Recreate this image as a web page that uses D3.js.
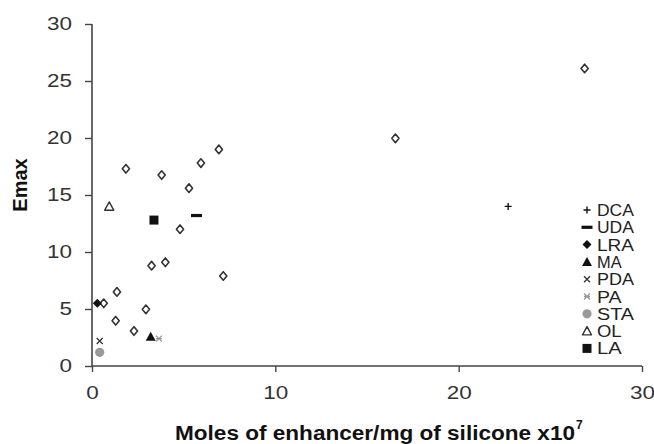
<!DOCTYPE html>
<html>
<head>
<meta charset="utf-8">
<style>
  body { margin: 0; background: #fff; }
  text { font-family: Arial, "Liberation Sans", sans-serif; }
</style>
</head>
<body>
<script src="https://cdn.jsdelivr.net/npm/d3@7"></script>
<script>

// legend order
var series = ["DCA", "UDA", "LRA", "MA", "PDA", "PA", "STA", "OL", "LA"];

// points: [x, Emax]
var otherPts = [[1.85, 17.3], [3.8, 16.75], [5.94, 17.8], [6.92, 19.0], [5.29, 15.6],
                [4.8, 12.0], [3.25, 8.8], [4.0, 9.1], [7.16, 7.9], [1.36, 6.5],
                [0.64, 5.5], [2.94, 4.97], [1.29, 3.97], [2.29, 3.07],
                [16.55, 19.97], [26.87, 26.1]];
var dcaPts = [[22.7, 14.0]];
var udaPts = [[5.7, 13.2]];
var lraPts = [[0.29, 5.5]];
var maPts  = [[3.2, 2.57]];
var pdaPts = [[0.42, 2.2]];
var paPts  = [[3.65, 2.4]];
var staPts = [[0.42, 1.2]];
var olPts  = [[0.94, 14.0]];
var laPts  = [[3.38, 12.8]];

var xTicks = [0, 10, 20, 30];
var yTicks = [0, 5, 10, 15, 20, 25, 30];

var width = 654, height = 444;
var margin = {top: 24, right: 12, bottom: 78, left: 92};

var svg = d3.select("body").append("svg")
    .attr("width", width)
    .attr("height", height);

svg.append("rect").attr("width", width).attr("height", height).attr("fill", "#fff");

var x = d3.scaleLinear().domain([0, 30]).range([margin.left, width - margin.right]);
var y = d3.scaleLinear().domain([0, 30]).range([height - margin.bottom, margin.top]);

// y axis
var gy = svg.append("g")
    .attr("transform", "translate(" + margin.left + ",0)")
    .call(d3.axisLeft(y).tickValues(yTicks).tickSize(7).tickPadding(13));
// x axis
var gx = svg.append("g")
    .attr("transform", "translate(0," + (height - margin.bottom) + ")")
    .call(d3.axisBottom(x).tickValues(xTicks).tickSize(6).tickPadding(14));

[gx, gy].forEach(function(g) {
  g.select(".domain").attr("stroke", "#444").attr("stroke-width", 1.6);
  g.selectAll(".tick line").attr("stroke", "#444").attr("stroke-width", 1.4);
  g.selectAll(".tick text")
      .attr("fill", "#333")
      .style("font-size", "18px")
      .attr("textLength", function(d) { return String(d).length * 12.5; })
      .attr("lengthAdjust", "spacingAndGlyphs");
});
gx.select(".domain").attr("d", "M" + x(0) + ",0H" + x(30));
gy.select(".domain").attr("d", "M0," + y(0) + "V" + y(30));

// axis titles
svg.append("text")
    .attr("x", 175)
    .attr("y", 440)
    .attr("font-weight", "bold")
    .style("font-size", "20px")
    .attr("fill", "#111")
    .attr("textLength", 400)
    .attr("lengthAdjust", "spacingAndGlyphs")
    .text("Moles of enhancer/mg of silicone x10");
svg.append("text")
    .attr("x", 576)
    .attr("y", 429)
    .attr("font-weight", "bold")
    .style("font-size", "12px")
    .attr("fill", "#111")
    .text("7");

svg.append("text")
    .attr("transform", "translate(27,185) rotate(-90)")
    .attr("text-anchor", "middle")
    .attr("font-weight", "bold")
    .style("font-size", "20px")
    .attr("fill", "#111")
    .text("Emax");

// marker drawing
function drawMarker(g, name) {
  if (name === "other") {
    g.append("path").attr("d", "M0,-4.3L3.6,0L0,4.3L-3.6,0Z")
      .attr("fill", "#fff").attr("stroke", "#333").attr("stroke-width", 1.6)
      .attr("stroke-linejoin", "round");
  } else if (name === "DCA") {
    g.append("path").attr("d", "M-3.5,0H3.5M0,-3.5V3.5")
      .attr("stroke", "#111").attr("stroke-width", 1.4);
  } else if (name === "UDA") {
    g.append("rect").attr("x", -5.5).attr("y", -1.6).attr("width", 11).attr("height", 3.2)
      .attr("fill", "#111");
  } else if (name === "LRA") {
    g.append("path").attr("d", "M0,-4.5L4.5,0L0,4.5L-4.5,0Z").attr("fill", "#111");
  } else if (name === "MA") {
    g.append("path").attr("d", "M0,-5L5,4H-5Z").attr("fill", "#111");
  } else if (name === "PDA") {
    g.append("path").attr("d", "M-3,-3L3,3M-3,3L3,-3")
      .attr("stroke", "#333").attr("stroke-width", 1.3);
  } else if (name === "PA") {
    g.append("path").attr("d", "M-3,-3L3,3M-3,3L3,-3M-3,0H3")
      .attr("stroke", "#999").attr("stroke-width", 1.3);
  } else if (name === "STA") {
    g.append("circle").attr("r", 4.6).attr("fill", "#999");
  } else if (name === "OL") {
    g.append("path").attr("d", "M0,-4.5L4.5,3.8H-4.5Z")
      .attr("fill", "#fff").attr("stroke", "#333").attr("stroke-width", 1.4)
      .attr("stroke-linejoin", "round");
  } else if (name === "LA") {
    g.append("rect").attr("x", -4.5).attr("y", -4.5).attr("width", 9).attr("height", 9)
      .attr("fill", "#111");
  }
}

var layers = [
  ["other", otherPts], ["DCA", dcaPts], ["UDA", udaPts], ["OL", olPts], ["LA", laPts],
  ["STA", staPts], ["PDA", pdaPts], ["PA", paPts], ["MA", maPts], ["LRA", lraPts]
];

layers.forEach(function(l) {
  svg.append("g").selectAll("g")
    .data(l[1])
    .join("g")
    .attr("transform", function(d) { return "translate(" + x(d[0]) + "," + y(d[1]) + ")"; })
    .each(function() { drawMarker(d3.select(this), l[0]); });
});

// legend
var legend = svg.append("g").attr("transform", "translate(587,210)");
var rows = legend.selectAll("g")
    .data(series)
    .join("g")
    .attr("transform", function(d, i) { return "translate(0," + (i * 17.3) + ")"; });
rows.each(function(d) { drawMarker(d3.select(this), d); });
rows.append("text")
    .attr("x", 10)
    .attr("y", 6)
    .style("font-size", "16px")
    .attr("fill", "#222")
    .attr("textLength", function(d) { return d.length * 12.3; })
    .attr("lengthAdjust", "spacingAndGlyphs")
    .text(function(d) { return d; });

</script>
</body>
</html>
